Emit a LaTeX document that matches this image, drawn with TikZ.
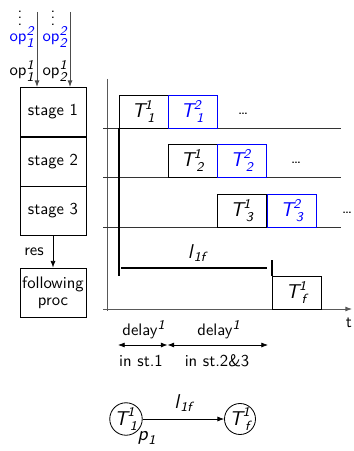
\documentclass[tikz,border=0pt]{standalone}
\usepackage{amsmath}
\usetikzlibrary{arrows.meta}
\newlength{\px}\setlength{\px}{0.6pt}
% sans italic letters for the formulas
\newcommand{\si}[1]{\textsf{\textit{#1}}}
\newcommand{\sx}[1]{\text{\fontsize{8}{9}\selectfont\sffamily\itshape #1}}
\newcommand{\Tt}[2]{{\large$\si{T}^{\!\sx{#1}}_{\sx{#2}}$}}
\begin{document}
\begin{tikzpicture}[x=0.6pt,y=-0.6pt,font=\sffamily,
  tip/.style={-{Latex[length=4pt,width=3pt]}},
  stagebox/.style={draw,line width=0.5pt,minimum width=66\px,minimum height=49\px,inner sep=0pt,align=center},
  taskbox/.style={draw,line width=0.5pt,minimum width=49\px,minimum height=33\px,inner sep=0pt},
  bluebox/.style={taskbox,draw=blue,text=blue},
  axis/.style={black!65,line width=0.5pt},
  grid/.style={black!80,line width=0.5pt},
  thickline/.style={line width=1.2pt},
  circ/.style={draw,circle,line width=0.5pt,minimum size=31\px,inner sep=0pt}]
\useasboundingbox (0,0) rectangle (353,451);

% pipeline stages
\node[stagebox] (s1) at (53,112) {stage 1};
\node[stagebox] (s2) at (53,161.5) {stage 2};
\node[stagebox] (s3) at (53,211) {stage 3};
\node[stagebox] (proc) at (53,292.5) {following\\[-2pt]proc};
\draw[tip] (s3.south) -- node[left,xshift=-2pt] {res} (proc.north);

% operand streams
\coordinate (in1) at (37,12);
\coordinate (in2) at (70,12);
\draw[black!70,line width=0.6pt,tip] (in1) -- (in1 |- s1.north);
\draw[black!70,line width=0.6pt,tip] (in2) -- (in2 |- s1.north);
\node[inner sep=0pt] (d1) at (20,13) {$\vdots$};
\node[inner sep=0pt] (d2) at (53,13) {$\vdots$};
\node[text=blue] (o21) at (22,37) {op$^{\sx{2}}_{\sx{1}}$};
\node[text=blue] (o22) at (55,37) {op$^{\sx{2}}_{\sx{2}}$};
\node (o11) at (22,71) {op$^{\sx{1}}_{\sx{1}}$};
\node (o12) at (55,71) {op$^{\sx{1}}_{\sx{2}}$};

% time chart axes and stage rows
\draw[axis] (107,79) -- (107,311);
\draw[grid] (103,128) -- (341,128);
\draw[grid] (103,177) -- (341,177);
\draw[grid] (103,227) -- (341,227);
\draw[axis,tip] (103,309) -- (352,309);
\node (t) at (349,323) {t};

% tasks in each stage
\node[taskbox] (T11) at (143.5,111.5) {\Tt{1}{1}};
\node[bluebox] (T21) at (192.5,111.5) {\Tt{2}{1}};
\node (e1) at (243,114) {\dots};
\node[taskbox] (T12) at (192.5,160.5) {\Tt{1}{2}};
\node[bluebox] (T22) at (242,160.5) {\Tt{2}{2}};
\node (e2) at (296,163) {\dots};
\node[taskbox] (T13) at (242,210.5) {\Tt{1}{3}};
\node[bluebox] (T23) at (292,210.5) {\Tt{2}{3}};
\node (e3) at (347,213) {\dots};
\node[taskbox] (Tf) at (296.5,292.5) {\Tt{1}{f}};

% latency from issue to the following task
\draw[thickline] (119,128) -- (119,276);
\draw[thickline] (121,268) -- (267,268);
\draw[thickline] (272,260) -- (272,276);
\node (l1f) at (197,253) {\large$\si{l}_{\sx{1f}}$};

% delays
\coordinate (a0) at (118,345);
\coordinate (a1) at (167.5,345);
\coordinate (a2) at (268,345);
\draw[{Latex[length=4pt,width=3pt]}-{Latex[length=4pt,width=3pt]}] (a0) -- (a1);
\draw[{Latex[length=4pt,width=3pt]}-{Latex[length=4pt,width=3pt]}] (a1) -- (a2);
\node (dl1) at (144,330) {delay$^{\sx{1}}$};
\node (dl2) at (219,330) {delay$^{\sx{1}}$};
\node (st1) at (141,361) {in st.1};
\node (st23) at (217,361) {in st.2\&3};

% dependency graph
\node[circ] (c1) at (126,419) {\Tt{1}{1}};
\node[circ] (cf) at (240,419) {\Tt{1}{f}};
\draw[tip] (c1) -- node[above,yshift=1pt] {\large$\si{l}_{\sx{1f}}$} (cf);
\node (p1) at (147,438) {\large$\si{p}_{\sx{1}}$};
\end{tikzpicture}
\end{document}
